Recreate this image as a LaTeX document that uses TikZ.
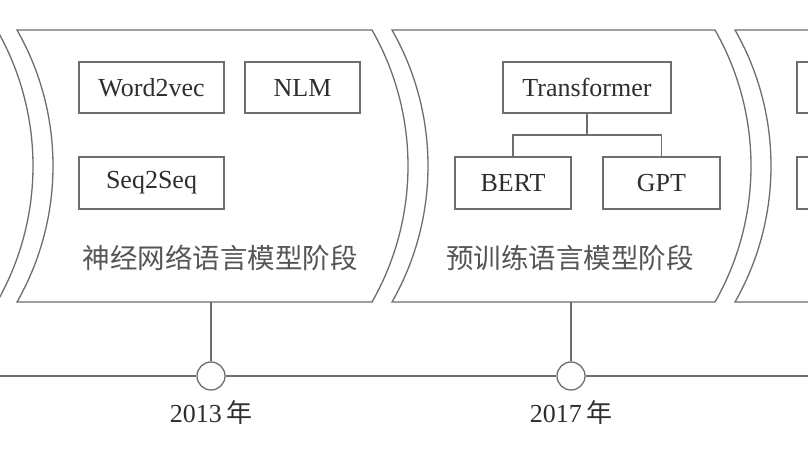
\documentclass[tikz,border=0pt]{standalone}
\usepackage{fontspec}
\setmainfont{Liberation Serif}
\newfontfamily\cjk{Noto Sans CJK SC}
\definecolor{linegray}{HTML}{6E6E6E}
\definecolor{textdark}{HTML}{2E2E2E}
\definecolor{textcjk}{HTML}{555555}
\tikzset{
  panel/.style={draw=linegray, line width=1.3pt},
  mbox/.style={draw=linegray, line width=1.3pt, rectangle, inner sep=0pt,
    minimum height=51pt, font=\fontsize{26}{28}\selectfont, text=textdark},
  conn/.style={draw=linegray, line width=1.3pt},
  stage/.style={font=\cjk\fontsize{27.5}{29}\selectfont, text=textcjk, inner sep=0pt},
  yearlbl/.style={font=\fontsize{26}{28}\selectfont, text=textdark, inner sep=0pt},
  dot/.style={circle, draw=linegray, fill=white, line width=1.3pt, minimum size=28pt, inner sep=0pt}
}
\begin{document}
\begin{tikzpicture}[x=1pt,y=-1pt]
\useasboundingbox (0,0) rectangle (808,455);
\clip (0,0) rectangle (808,455);
\fill[white] (0,0) rectangle (808,455);
% panel 0 (only right edge visible)
\draw[panel] (-3,30) .. controls (45,114) and (45,218) .. (-3,302);
% panel 1
\draw[panel] (17,30) -- (372,30) .. controls (420,114) and (420,218) .. (372,302)
  -- (17,302) .. controls (65,218) and (65,114) .. (17,30) -- cycle;
% panel 2
\draw[panel] (392,30) -- (715,30) .. controls (763,114) and (763,218) .. (715,302)
  -- (392,302) .. controls (440,218) and (440,114) .. (392,30) -- cycle;
% panel 3
\draw[panel] (900,30) -- (735,30) .. controls (783,114) and (783,218) .. (735,302) -- (900,302);
% panel 1 boxes
\node[mbox, minimum width=145pt] (w2v) at (151.5,87.5) {Word2vec};
\node[mbox, minimum width=115pt] (nlm) at (302.5,87.5) {NLM};
\node[mbox, minimum width=145pt, minimum height=52pt] (s2s) at (151.5,183) {Seq2Seq};
\node[stage] (stage1) at (220,258) {神经网络语言模型阶段};
% panel 2 boxes
\node[mbox, minimum width=168pt] (trf) at (587,87.5) {Transformer};
\node[mbox, minimum width=116pt, minimum height=52pt] (bert) at (513,183) {BERT};
\node[mbox, minimum width=117pt, minimum height=52pt] (gpt) at (661.5,183) {GPT};
\node[stage] (stage2) at (570,258) {预训练语言模型阶段};
\coordinate (split) at (587,135);
\draw[conn] (trf.south) -- (split);
\draw[conn] (bert.north) |- (split) -| (gpt.north);
% panel 3 boxes (cut off)
\node[mbox, minimum width=140pt] (p3a) at (867,87.5) {};
\node[mbox, minimum width=140pt, minimum height=52pt] (p3b) at (867,183) {};
% timeline
\coordinate (tl) at (-5,376);
\coordinate (tr) at (813,376);
\node[dot] (c1) at (211,376) {};
\node[dot] (c2) at (571,376) {};
\coordinate (s1) at (211,302);
\coordinate (s2) at (571,302);
\draw[conn] (tl) -- (c1) -- (c2) -- (tr);
\draw[conn] (s1) -- (c1);
\draw[conn] (s2) -- (c2);
\node[yearlbl] (y1) at (211,413) {2013\,{\cjk 年}};
\node[yearlbl] (y2) at (571,413) {2017\,{\cjk 年}};
\end{tikzpicture}
\end{document}
